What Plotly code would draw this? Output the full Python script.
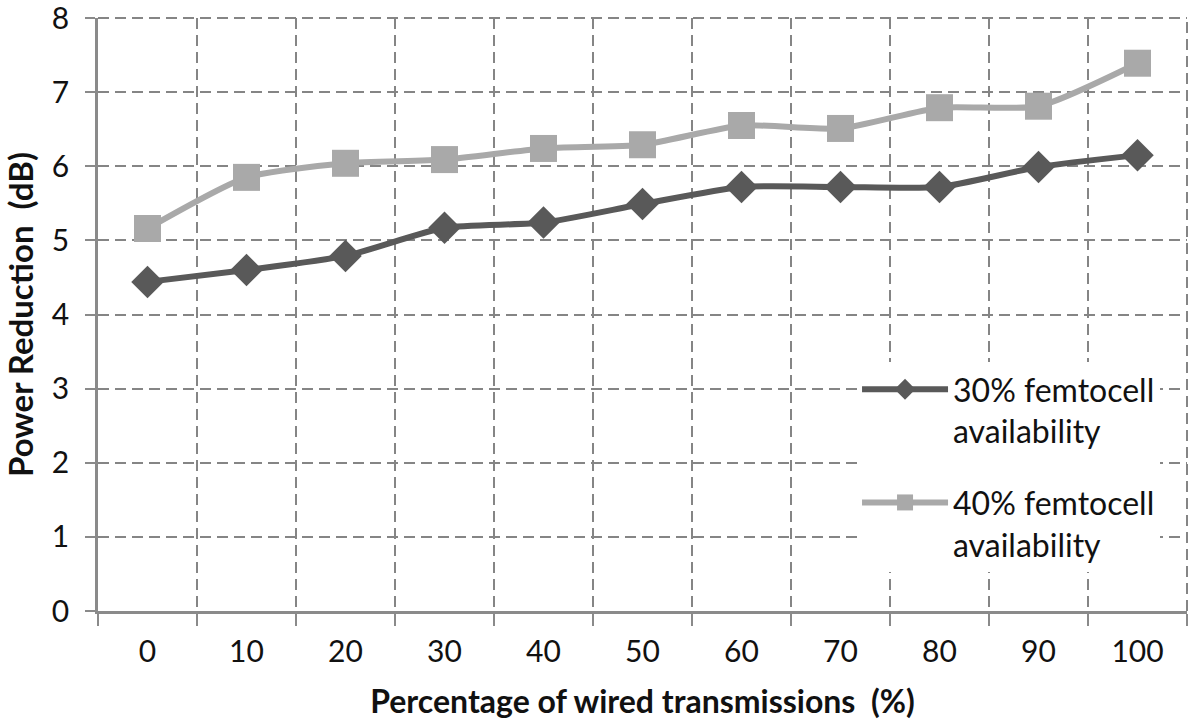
import plotly.graph_objects as go

categories = ["0", "10", "20", "30", "40", "50", "60", "70", "80", "90", "100"]
femto30 = [4.44, 4.60, 4.79, 5.17, 5.24, 5.49, 5.72, 5.72, 5.72, 5.99, 6.15]
femto40 = [5.16, 5.85, 6.04, 6.09, 6.24, 6.29, 6.55, 6.51, 6.79, 6.81, 7.39]
y_ticks = [0, 1, 2, 3, 4, 5, 6, 7, 8]

font = "Lato, Open Sans, sans-serif"
grid = "#858585"
dash = "11px,6px"

fig = go.Figure()
fig.add_trace(go.Scatter(
    x=categories, y=femto30, mode="lines+markers",
    name="30% femtocell<br>availability", legendgroup="a",
    line=dict(color="#595959", width=6, shape="spline", smoothing=0.6),
    marker=dict(symbol="diamond", size=25, color="#595959"),
))
fig.add_trace(go.Scatter(
    x=categories, y=femto40, mode="lines+markers",
    name="40% femtocell<br>availability", legendgroup="b",
    line=dict(color="#a9a9a9", width=6, shape="spline", smoothing=0.6),
    marker=dict(symbol="square", size=27, color="#a9a9a9"),
))

# top and right borders of the plot area, drawn as dashed grid lines
fig.add_shape(type="line", xref="paper", yref="paper", x0=0, x1=1, y0=1, y1=1,
              line=dict(color=grid, width=2, dash=dash), layer="below")
fig.add_shape(type="line", xref="paper", yref="paper", x0=1, x1=1, y0=0, y1=1,
              line=dict(color=grid, width=2, dash=dash), layer="below")

fig.update_layout(
    width=1200, height=726,
    margin=dict(l=98, r=13, t=18, b=115),
    paper_bgcolor="white", plot_bgcolor="white",
    showlegend=True,
    legend=dict(
        x=0.697, y=0.42, xanchor="left", yanchor="top",
        bgcolor="white", borderwidth=0, valign="top",
        font=dict(family=font, size=32, color="#111111"),
        tracegroupgap=27, itemwidth=86,
    ),
    xaxis=dict(
        type="category", tickson="boundaries",
        range=[-0.5, 10.5],
        showgrid=True, gridcolor=grid, griddash=dash, gridwidth=2,
        showline=True, linecolor="#8a8a8a", linewidth=2.5,
        ticks="outside", ticklen=12, tickcolor="#8a8a8a", tickwidth=2,
        tickfont=dict(family=font, size=30, color="#111111"),
        ticklabelstandoff=12,
        title=dict(text="<b>Percentage of wired transmissions  (%)</b>",
                   font=dict(family=font, size=32, color="#111111"), standoff=24),
        zeroline=False, automargin=False,
    ),
    yaxis=dict(
        range=[0, 8], tickvals=y_ticks,
        showgrid=True, gridcolor=grid, griddash=dash, gridwidth=2,
        showline=True, linecolor="#8a8a8a", linewidth=2.5,
        ticks="outside", ticklen=10, tickcolor="#8a8a8a", tickwidth=2,
        tickfont=dict(family=font, size=30, color="#111111"),
        ticklabelstandoff=10, ticklabeloverflow="allow",
        title=dict(text="<b>Power Reduction  (dB)</b>",
                   font=dict(family=font, size=33, color="#111111"), standoff=14),
        zeroline=False, automargin=False,
    ),
)

fig.write_html("out.html", config={"displayModeBar": False},
               post_script="document.body.style.margin='0px';")
